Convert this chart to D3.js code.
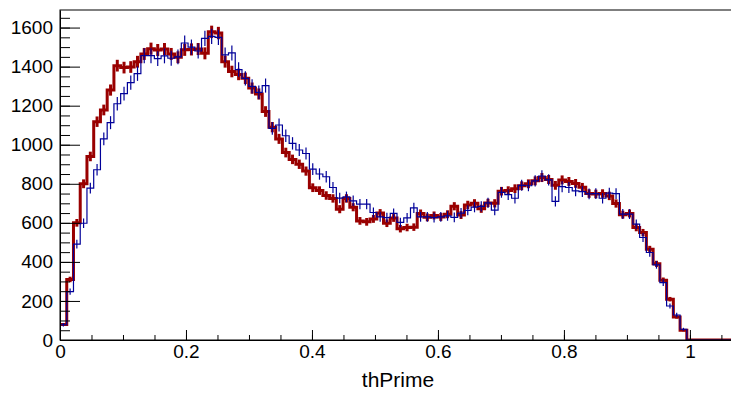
<!DOCTYPE html>
<html>
<head>
<meta charset="utf-8">
<script src="https://cdn.jsdelivr.net/npm/d3@7"></script>
<style>
  body { margin: 0; background: #fff; }
  text { font-family: "Liberation Sans", Arial, sans-serif; }
</style>
</head>
<body>
<div id="chart"></div>
<script>
// histogram: 100 bins on [0, 1.07]
var binLo = 0, binHi = 1.07, nBins = 100;

// red (thick) histogram contents
var redCounts = [80,310,600,800,940,1118,1178,1280,1405,1395,
                 1398,1425,1465,1492,1485,1490,1465,1448,1486,1488,
                 1490,1468,1578,1572,1425,1375,1360,1340,1290,1260,
                 1170,1090,1030,960,925,900,865,780,765,740,
                 725,670,725,680,610,605,620,650,598,625,
                 570,576,578,648,628,638,630,644,685,640,
                 692,700,672,702,700,762,765,775,790,800,
                 815,832,822,792,820,812,802,782,750,748,
                 750,738,699,642,648,576,550,465,390,306,
                 209,118,50,0,0,0,0,0,0,0];

// blue (thin) histogram contents
var blueCounts = [78,248,491,598,778,872,1030,1113,1210,1262,
                  1318,1364,1456,1456,1441,1455,1443,1450,1521,1500,
                  1480,1545,1555,1550,1460,1470,1385,1340,1299,1268,
                  1303,1084,1101,1046,1007,973,955,875,850,836,
                  781,727,733,713,696,696,653,631,627,648,
                  602,625,677,631,631,627,631,636,628,650,
                  664,680,684,702,665,756,744,726,792,790,
                  815,840,820,710,785,781,764,760,748,750,
                  726,752,750,645,645,593,525,448,385,294,
                  174,128,55,0,0,0,0,0,0,0];

var yMajor = [0,200,400,600,800,1000,1200,1400,1600];
var xMajor = [0,0.2,0.4,0.6,0.8,1];
var xTitle = "thPrime";

var w = 731, h = 395;
var margin = {top: 10, left: 60, bottom: 55, right: -3};
var width = w - margin.left - margin.right;
var height = h - margin.top - margin.bottom;

var svg = d3.select("#chart").append("svg")
            .attr("width", w)
            .attr("height", h);

var g = svg.append("g")
           .attr("transform", "translate(" + margin.left + "," + margin.top + ")");

var x = d3.scaleLinear().domain([0, 1.07]).range([0, width]);
var y = d3.scaleLinear().domain([0, 1690]).range([height, 0]);

g.append("clipPath").attr("id", "clip")
 .append("rect").attr("width", width).attr("height", height);

var binW = (binHi - binLo) / nBins;

// step line: each bin from its low edge, closed at the last high edge
function stepPoints(counts) {
  var pts = counts.map(function(v, i){ return [binLo + i*binW, v]; });
  pts.push([binHi, counts[counts.length-1]]);
  return pts;
}

var line = d3.line()
             .x(function(d){ return x(d[0]); })
             .y(function(d){ return y(d[1]); })
             .curve(d3.curveStepAfter);

var plot = g.append("g").attr("clip-path", "url(#clip)");

function drawHist(counts, color, lw, errScale) {
  plot.append("path")
      .datum(stepPoints(counts))
      .attr("d", line)
      .attr("fill", "none")
      .attr("stroke", color)
      .attr("stroke-width", lw);

  // poisson error bars at bin centres
  plot.selectAll(null)
      .data(counts.filter(function(v){ return v > 0; }))
      .enter()
      .append("line")
      .attr("x1", function(d, i){ return x(binLo + (i+0.5)*binW); })
      .attr("x2", function(d, i){ return x(binLo + (i+0.5)*binW); })
      .attr("y1", function(d){ return y(d - errScale*Math.sqrt(d)); })
      .attr("y2", function(d){ return y(d + errScale*Math.sqrt(d)); })
      .attr("stroke", color)
      .attr("stroke-width", lw);
}

drawHist(redCounts, "#990000", 3, 0.8);
drawHist(blueCounts, "#000099", 1.2, 1.0);

// frame
g.append("rect")
 .attr("x", 0).attr("y", 0)
 .attr("width", width).attr("height", height)
 .attr("fill", "none")
 .attr("stroke", "#000")
 .attr("stroke-width", 1);

// y axis, ticks drawn inside the frame
var yMinor = d3.range(0, 1690, 50);
g.append("g")
 .call(d3.axisLeft(y).tickValues(yMinor).tickSize(-10).tickSizeOuter(0).tickFormat(""))
 .call(function(s){ s.select(".domain").remove(); });
var yAx = g.append("g")
 .call(d3.axisLeft(y).tickValues(yMajor).tickSize(-20).tickSizeOuter(0).tickPadding(7)
         .tickFormat(d3.format("d")));
yAx.selectAll("text").style("font-size", "19px").attr("fill", "#000");

// x axis
var xMinor = d3.range(0, 1.07, 0.05);
g.append("g")
 .attr("transform", "translate(0," + height + ")")
 .call(d3.axisBottom(x).tickValues(xMinor).tickSize(-5).tickSizeOuter(0).tickFormat(""))
 .call(function(s){ s.select(".domain").remove(); });
var xAx = g.append("g")
 .attr("transform", "translate(0," + height + ")")
 .call(d3.axisBottom(x).tickValues(xMajor).tickSize(-10).tickSizeOuter(0).tickPadding(5)
         .tickFormat(function(d){ return d3.format("")(d); }));
xAx.selectAll("text").style("font-size", "19px").attr("fill", "#000");

g.selectAll(".tick line").attr("stroke", "#000");
g.selectAll(".domain").attr("stroke", "#000");

svg.append("text")
   .attr("x", 398)
   .attr("y", 387)
   .attr("text-anchor", "middle")
   .style("font-size", "21px")
   .text(xTitle);
</script>
</body>
</html>
